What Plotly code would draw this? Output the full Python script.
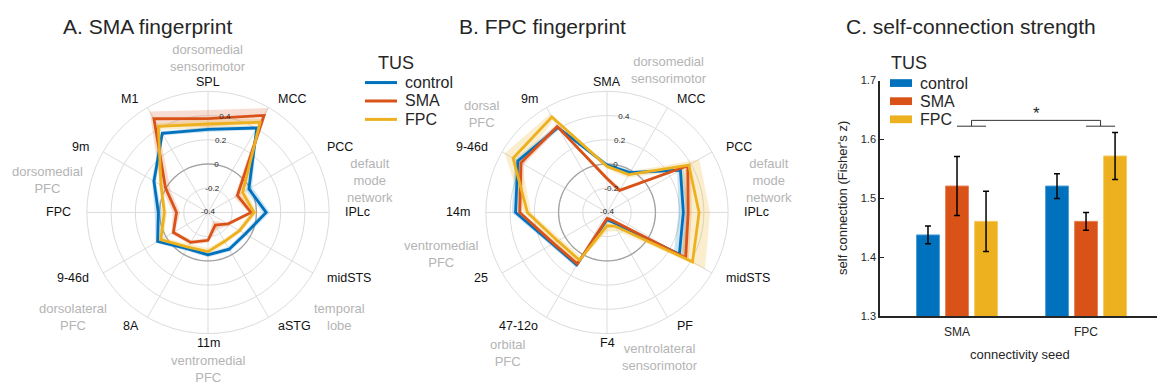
import plotly.graph_objects as go
import numpy as np

W, H = 1157, 390

TUS = ["control", "SMA", "FPC"]
COLORS = {"control": "#0072BD", "SMA": "#D95319", "FPC": "#EDB120"}
BANDS = {"control": "rgba(0,114,189,0.20)", "SMA": "rgba(217,83,25,0.20)",
         "FPC": "rgba(237,177,32,0.22)"}
EDGES = {"control": "#4f9fd6", "SMA": "#e8835a", "FPC": "#f3ca66"}

# ---- A. SMA fingerprint (connectivity, Fisher's z) ----
sma_regions = ["SPL", "MCC", "PCC", "IPLc", "midSTS", "aSTG", "11m", "8A",
               "9-46d", "FPC", "9m", "M1"]
sma_control = [0.285, 0.405, -0.01, 0.08, -0.045, -0.05, -0.05, -0.055, 0.08, 0.01, 0.115, 0.355]
sma_sma = [0.375, 0.525, -0.12, -0.045, -0.21, -0.28, -0.17, -0.115, -0.07, -0.14, 0.005, 0.493]
sma_fpc = [0.33, 0.46, -0.07, -0.02, -0.10, -0.125, -0.077, -0.07, 0.05, -0.04, 0.048, 0.42]
sma_control_se = [0.02, 0.02, 0.03, 0.03, 0.02, 0.02, 0.02, 0.02, 0.02, 0.03, 0.02, 0.02]
sma_sma_se = [0.07, 0.07, 0.03, 0.02, 0.02, 0.04, 0.02, 0.02, 0.02, 0.03, 0.05, 0.07]
sma_fpc_se = [0.04, 0.03, 0.03, 0.03, 0.02, 0.02, 0.03, 0.03, 0.03, 0.02, 0.02, 0.03]

# ---- B. FPC fingerprint ----
fpc_regions = ["SMA", "MCC", "PCC", "IPLc", "midSTS", "PF", "F4", "47-12o",
               "25", "14m", "9-46d", "9m"]
fpc_control = [-0.01, -0.02, 0.30, 0.23, 0.29, -0.31, -0.34, 0.10, 0.12, 0.355, 0.45, 0.41]
fpc_sma = [-0.12, -0.19, 0.37, 0.27, 0.35, -0.33, -0.35, 0.09, 0.11, 0.32, 0.42, 0.42]
fpc_fpc = [-0.02, -0.04, 0.38, 0.36, 0.415, -0.27, -0.29, 0.055, 0.07, 0.257, 0.495, 0.51]
fpc_control_se = [0.02, 0.02, 0.03, 0.04, 0.05, 0.02, 0.02, 0.02, 0.02, 0.03, 0.03, 0.02]
fpc_sma_se = [0.02, 0.02, 0.03, 0.03, 0.03, 0.02, 0.02, 0.02, 0.02, 0.02, 0.03, 0.02]
fpc_fpc_se = [0.02, 0.03, 0.10, 0.09, 0.12, 0.05, 0.05, 0.03, 0.03, 0.03, 0.08, 0.03]

# ---- C. self-connection strength ----
seeds = ["SMA", "FPC"]
self_control = [1.438, 1.521]
self_sma = [1.521, 1.461]
self_fpc = [1.461, 1.572]
self_control_err = [0.015, 0.021]
self_sma_err = [0.050, 0.015]
self_fpc_err = [0.051, 0.040]

radial_ticks = [-0.4, -0.2, 0, 0.2, 0.4]
radial_ticktext = ["-0.4", "-0.2", "0", "0.2", "0.4"]

FONT = "Liberation Sans, Arial, Helvetica, sans-serif"
TXT = "#262626"
GRAY_LBL = "#b4b4b4"
GRID = "#dcdcdc"
R_MIN, R_MAX = -0.4, 0.6
RADIUS_PX = 125       # ring radius on the page
LABEL_PX = 135        # region names sit just outside the outer ring
RLABEL_THETA = 10     # radial tick labels run along a slightly tilted ray

fig = go.Figure()
annotations = []
shapes = []


def px_x(x):
    return x / W


def px_y(y):
    return 1 - y / H


def note(x, y, text, size, color=TXT, xanchor="center", **kw):
    annotations.append(dict(x=px_x(x), y=px_y(y), xref="paper", yref="paper", text=text,
                            showarrow=False, xanchor=xanchor, yanchor="middle",
                            font=dict(size=size, color=color, family=FONT), **kw))


def add_radar(subplot, cx, cy, regions, series, errors):
    thetas = [i * 360 / len(regions) for i in range(len(regions))]
    closed_t = thetas + [360]
    # zero-level reference circle
    ring_t = np.linspace(0, 360, 121)
    fig.add_trace(go.Scatterpolar(r=np.zeros_like(ring_t), theta=ring_t, mode="lines",
                                  line=dict(color="#a3a3a3", width=1.3),
                                  hoverinfo="skip", showlegend=False, subplot=subplot))
    # uncertainty bands
    for name, vals, se in zip(TUS, series, errors):
        hi = [v + e for v, e in zip(vals, se)]
        lo = [v - e for v, e in zip(vals, se)]
        r = hi + [hi[0]] + ([lo[0]] + lo[::-1])
        t = closed_t + closed_t[::-1]
        fig.add_trace(go.Scatterpolar(r=r, theta=t, mode="lines", fill="toself",
                                      fillcolor=BANDS[name], line=dict(width=0),
                                      hoverinfo="skip", showlegend=False, subplot=subplot))
    # mean fingerprints
    for name, vals in zip(TUS, series):
        fig.add_trace(go.Scatterpolar(r=vals + [vals[0]], theta=closed_t, mode="lines",
                                      line=dict(color=COLORS[name], width=2.8),
                                      name=name, showlegend=False, subplot=subplot))
    # radial tick labels
    fig.add_trace(go.Scatterpolar(r=radial_ticks, theta=[RLABEL_THETA] * len(radial_ticks),
                                  mode="text", text=radial_ticktext,
                                  textposition="middle center", cliponaxis=False,
                                  textfont=dict(size=8, color=TXT, family=FONT),
                                  hoverinfo="skip", showlegend=False, subplot=subplot))
    # region names around the ring (clockwise from the top)
    for t, name in zip(thetas, regions):
        a = np.deg2rad(t)
        dx, dy = np.sin(a), np.cos(a)
        if abs(dx) < 1e-6:
            anchor = "center"
        else:
            anchor = "left" if dx > 0 else "right"
        note(cx + LABEL_PX * dx, cy - LABEL_PX * dy, name, 12.5, "#111", xanchor=anchor)
    return thetas


th_a = add_radar("polar", 208, 213, sma_regions, [sma_control, sma_sma, sma_fpc],
                 [sma_control_se, sma_sma_se, sma_fpc_se])
th_b = add_radar("polar2", 607, 213, fpc_regions, [fpc_control, fpc_sma, fpc_fpc],
                 [fpc_control_se, fpc_sma_se, fpc_fpc_se])

# bars with error bars
for name, vals, err in zip(TUS, [self_control, self_sma, self_fpc],
                           [self_control_err, self_sma_err, self_fpc_err]):
    fig.add_trace(go.Bar(x=[0, 1], y=vals, name=name, showlegend=False,
                         marker=dict(color=COLORS[name], line=dict(color=EDGES[name], width=1)),
                         error_y=dict(type="data", array=err, color="black",
                                      thickness=1.5, width=3),
                         xaxis="x", yaxis="y"))


def polar_layout(cx, cy, thetas):
    rad = RADIUS_PX
    return dict(
        domain=dict(x=[px_x(cx - rad), px_x(cx + rad)], y=[px_y(cy + rad), px_y(cy - rad)]),
        bgcolor="rgba(0,0,0,0)",
        angularaxis=dict(rotation=90, direction="clockwise", tickmode="array",
                         tickvals=thetas, showticklabels=False, showline=True,
                         linecolor=GRID, linewidth=1, gridcolor=GRID,
                         gridwidth=1, ticks=""),
        radialaxis=dict(range=[R_MIN, R_MAX], tickmode="array", tickvals=radial_ticks,
                        showticklabels=False, showline=False, gridcolor=GRID,
                        gridwidth=1, ticks="", angle=90),
    )


# panel titles
note(147, 21, "A. SMA fingerprint", 21)
note(542, 21, "B. FPC fingerprint", 21)
note(971, 21, "C. self-connection strength", 21)

# network group labels around the fingerprints
groups = [
    (208, 54, "dorsomedial<br>sensorimotor"),
    (370, 180, "default<br>mode<br>network"),
    (339, 321, "temporal<br>lobe"),
    (208, 375, "ventromedial<br>PFC"),
    (73, 321, "dorsolateral<br>PFC"),
    (47, 180, "dorsomedial<br>PFC"),
    (669, 66, "dorsomedial<br>sensorimotor"),
    (482, 111, "dorsal<br>PFC"),
    (769, 180, "default<br>mode<br>network"),
    (441, 256, "ventromedial<br>PFC"),
    (508, 358, "orbital<br>PFC"),
    (660, 362, "ventrolateral<br>sensorimotor"),
]
for gx, gy, gtext in groups:
    note(gx, gy, gtext, 13, GRAY_LBL)

# legend for the fingerprints
note(376, 59, "TUS", 18, xanchor="left")
for i, name in enumerate(TUS):
    yy = 79 + i * 19
    shapes.append(dict(type="line", xref="paper", yref="paper", x0=px_x(365), x1=px_x(397),
                       y0=px_y(yy), y1=px_y(yy), line=dict(color=COLORS[name], width=3)))
    note(403, yy, name, 16, xanchor="left")

# legend for the bars
note(889, 59, "TUS", 18, xanchor="left")
for i, name in enumerate(TUS):
    yy = 79.5 + i * 18.7
    shapes.append(dict(type="rect", xref="paper", yref="paper", x0=px_x(890), x1=px_x(912),
                       y0=px_y(yy + 4), y1=px_y(yy - 4), line=dict(width=0),
                       fillcolor=COLORS[name]))
    note(918, yy, name, 16, xanchor="left")

# significance bracket between TUS effects on the two seeds
leg_y, top_y = 1.6226, 1.6325
for x0, x1, y0, y1 in [(0.0, 0.225, leg_y, leg_y), (0.1125, 0.1125, leg_y, top_y),
                       (0.1125, 1.1125, top_y, top_y), (1.1125, 1.1125, top_y, leg_y),
                       (1.0, 1.225, leg_y, leg_y)]:
    shapes.append(dict(type="line", xref="x", yref="y", x0=x0, x1=x1, y0=y0, y1=y1,
                       line=dict(color="#333333", width=1)))
annotations.append(dict(x=0.6125, y=1.644, xref="x", yref="y", text="*", showarrow=False,
                        font=dict(size=17, color=TXT, family=FONT), yanchor="middle"))

# axis titles for the bar chart
note(1020, 360, "connectivity seed", 13)
note(843, 198, "self connection (Fisher's z)", 13, textangle=-90)

fig.update_layout(
    width=W, height=H, margin=dict(l=0, r=0, t=0, b=0),
    paper_bgcolor="white", plot_bgcolor="white",
    font=dict(family=FONT, color=TXT),
    polar=polar_layout(208, 213, th_a),
    polar2=polar_layout(607, 213, th_b),
    xaxis=dict(domain=[px_x(880), 1], range=[-0.597, 1.55], tickmode="array",
               tickvals=[0, 1], ticktext=seeds, showline=True, linecolor=TXT, linewidth=1.5,
               ticks="", showgrid=False, zeroline=False, tickfont=dict(size=12), anchor="y",
               ticklabelstandoff=4),
    yaxis=dict(domain=[px_y(320), px_y(77)], range=[1.3, 1.7], tickmode="array",
               tickvals=[1.3, 1.4, 1.5, 1.6, 1.7], ticktext=["1.3", "1.4", "1.5", "1.6", "1.7"],
               showline=True, linecolor=TXT, linewidth=1.5, ticks="inside", ticklen=4,
               tickcolor=TXT, showgrid=False, zeroline=False, tickfont=dict(size=11),
               anchor="x"),
    barmode="group", bargap=0.325, bargroupgap=0.21,
    showlegend=False,
    annotations=annotations, shapes=shapes,
)

fig.write_html("out.html")
